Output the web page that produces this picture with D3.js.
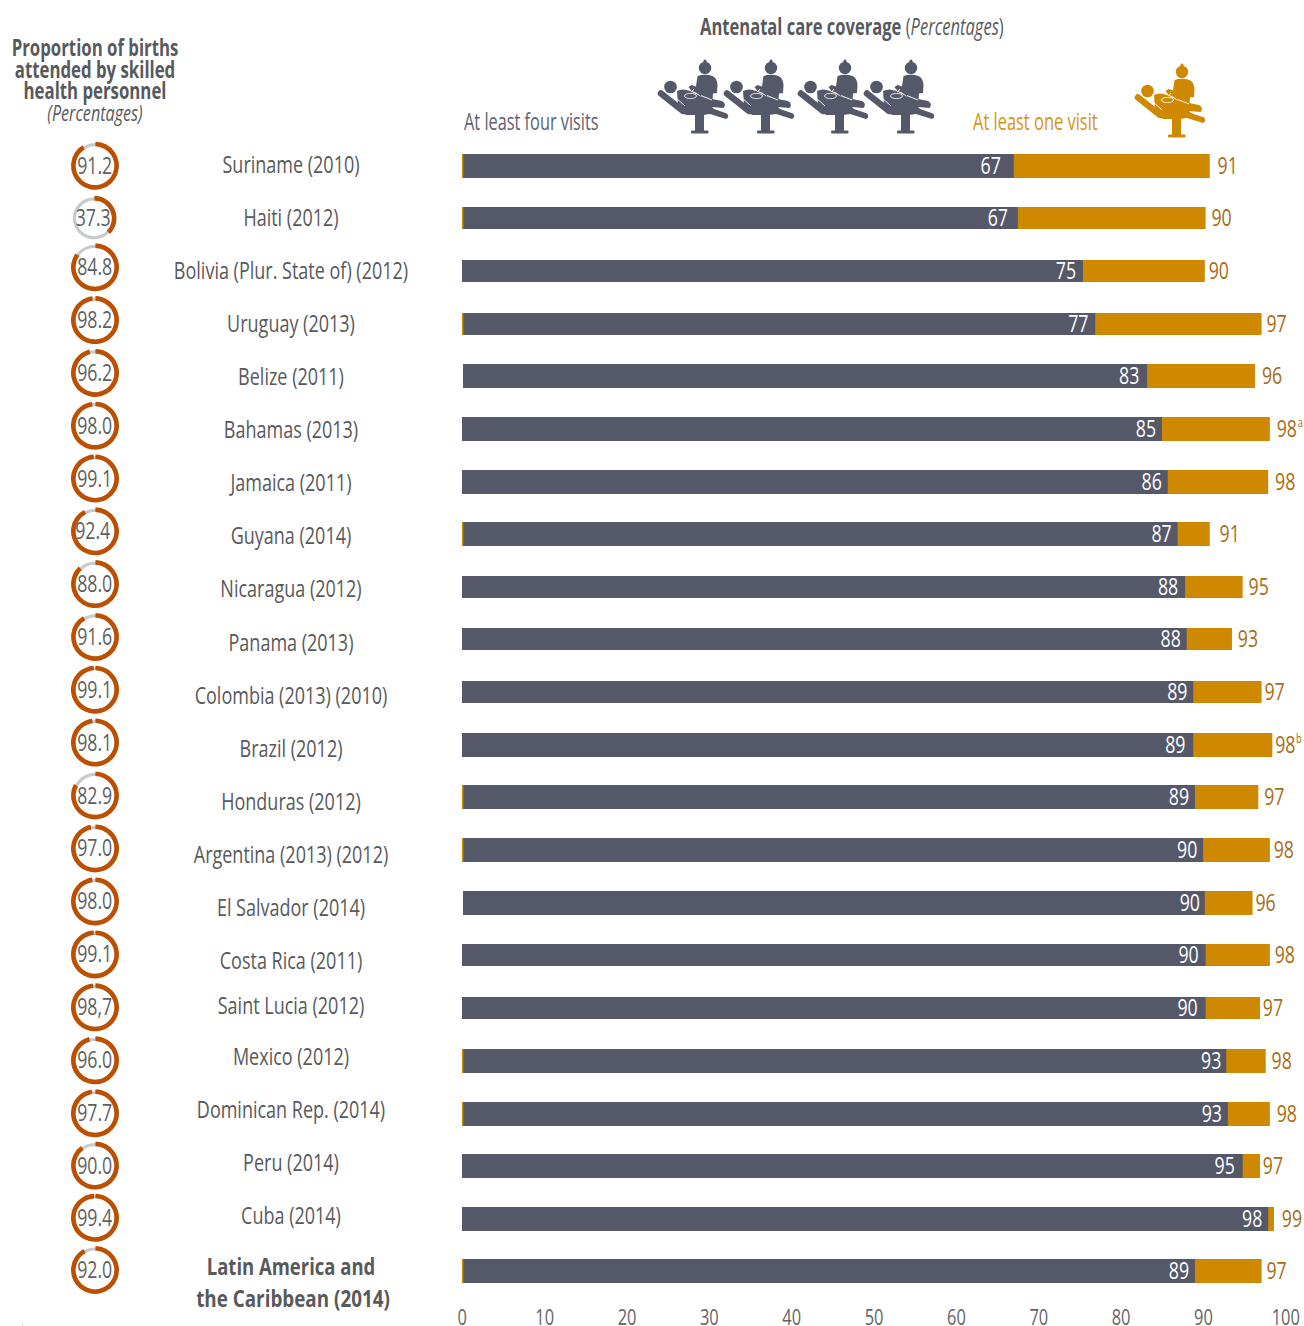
<!DOCTYPE html>
<html><head><meta charset="utf-8">
<script src="https://cdn.jsdelivr.net/npm/d3@7/dist/d3.min.js"></script>
<style>html,body{margin:0;padding:0;background:#fff}svg{display:block}text{font-family:"Open Sans",sans-serif}</style>
</head><body><svg id="c" width="1304" height="1326"></svg>
<script>
const countries = ["Suriname (2010)","Haiti (2012)","Bolivia (Plur. State of) (2012)","Uruguay (2013)","Belize (2011)","Bahamas (2013)","Jamaica (2011)","Guyana (2014)","Nicaragua (2012)","Panama (2013)","Colombia (2013) (2010)","Brazil (2012)","Honduras (2012)","Argentina (2013) (2012)","El Salvador (2014)","Costa Rica (2011)","Saint Lucia (2012)","Mexico (2012)","Dominican Rep. (2014)","Peru (2014)","Cuba (2014)"];
const regionLines = ["Latin America and","the Caribbean (2014)"];
const fourVisits = [67.0,67.5,75.4,76.9,83.2,85.0,85.7,86.9,87.8,88.0,88.8,88.8,89.0,90.0,90.2,90.3,90.3,92.8,93.0,94.8,97.9,89.0];
const oneVisit = [90.8,90.3,90.2,97.1,96.3,98.1,97.9,90.8,94.8,93.5,97.1,98.4,96.7,98.1,96.0,98.1,96.9,97.6,98.1,96.9,98.6,97.1];
const fourLabels = ["67","67","75","77","83","85","86","87","88","88","89","89","89","90","90","90","90","93","93","95","98","89"];
const oneLabels = ["91","90","90","97","96","98","98","91","95","93","97","98","97","98","96","98","97","98","98","97","99","97"];
const footnotes = ["","","","","","a","","","","","","b","","","","","","","","","",""];
const skilled = [91.2,37.3,84.8,98.2,96.2,98.0,99.1,92.4,88.0,91.6,99.1,98.1,82.9,97.0,98.0,99.1,98.7,96.0,97.7,90.0,99.4,92.0];
const skilledLabels = ["91.2","37.3","84.8","98.2","96.2","98.0","99.1","92.4","88.0","91.6","99.1","98.1","82.9","97.0","98.0","99.1","98,7","96.0","97.7","90.0","99.4","92.0"];
const axisTicks = [0,10,20,30,40,50,60,70,80,90,100];

const GREY="#555869", ORANGE="#cf8900", RING="#bd4f00", RINGBG="#c9cacd", INK="#58595b", OUTER="#a96c14";
const svg=d3.select("#c");
const n=fourVisits.length, rows=d3.range(n);
const x=d3.scaleLinear().domain([0,100]).range([462,1285.5]);
const barY=d3.scaleLinear().domain([0,16,17,21]).range([165.85,1007.8,1061,1271]);
const ringY=d3.scaleLinear().domain([0,1,2,11,18,21]).range([165.7,218.3,267.3,742.5,1113.3,1270]);
const nameY=d3.scaleLinear().domain([0,15,16,17,20]).range([164.5,960.5,1005.5,1056.5,1215.5]);
const narrow=new Set([1,2,3,8,9,10,15,16]);
const stub=new Set([0,1,3,7,12,13,17,18,21]), shifted=new Set([4,14]);
const innerNudge=[-6,-3,0,0,-1,1,1,1,0,1,1,-1,1,1,2,0,-1,2,1,-1,1,1];
const outerNudge=[3,1,-1,0,2,2,2,5,1,1,-2,-2,1,-1,-2,0,-2,1,2,-2,3,0];
const ringShift=new Map([[1,-1]]), ringTextShift=new Map([[1,-1.5],[7,-2]]);

function txt(g,px,py,s,o={}){
  const sx=o.sx||0.76;
  const t=g.append("text").attr("transform",`translate(${px},${py}) scale(${sx},1)`)
    .attr("dy",".35em").attr("text-anchor",o.anchor||"middle")
    .attr("font-size",o.size||22).attr("fill",o.fill||INK).text(s);
  if(o.bold)t.attr("font-weight",700);
  if(o.italic)t.attr("font-style","italic");
  return t;
}

// icon
const defs=svg.append("defs"), sym=defs.append("g").attr("id","medic");
const strokeLine=(d,w)=>sym.append("path").attr("d",d).attr("fill","none").attr("stroke","currentColor").attr("stroke-width",w).attr("stroke-linecap","round").attr("stroke-linejoin","round");
sym.append("circle").attr("cx",55).attr("cy",13).attr("r",6.2);
sym.append("circle").attr("cx",55).attr("cy",6.2).attr("r",1.6);
sym.append("path").attr("d","M47.5 21 Q55 18.5 62.5 21 Q67 23 67.5 30 L67 38 L63 38.5 L62.5 45 L52 42 L46 37.5 L41.5 36 L38.5 32 L41.5 30 L46 31.5 Z");
sym.append("circle").attr("cx",20.5).attr("cy",32).attr("r",6.3);
strokeLine("M11 38.5 L33 56 L56 56",6.5);
sym.append("path").attr("d","M27 36 Q33 33 40 36 L52 42 L72 46 Q77 49 73.5 53 L62 52 L64 54 L77 58.5 Q80 62 76 64 L60 59 L52 60 L36 60 L28 50 Z");
sym.append("rect").attr("x",45).attr("y",56).attr("width",9).attr("height",21);
sym.append("rect").attr("x",41).attr("y",75.5).attr("width",17.5).attr("height",3).attr("rx",1);
sym.append("ellipse").attr("cx",40.5).attr("cy",41).attr("rx",6).attr("ry",2.6).attr("fill","none").attr("stroke","#fff").attr("stroke-width",.8);
sym.append("path").attr("d","M24.5 41.5 L35 51 M44 34 L41.5 37 M51 40.5 L62 45").attr("fill","none").attr("stroke","#fff").attr("stroke-width",.9);

const iconOrigins=[650,716,790,856];
iconOrigins.forEach(px=>svg.append("use").attr("href","#medic").attr("x",px).attr("y",55).style("color",GREY).attr("fill",GREY));
svg.append("use").attr("href","#medic").attr("x",1127).attr("y",59).style("color",ORANGE).attr("fill",ORANGE);

// headers
const h=svg.append("g");
const t1=txt(h,700,26.5,"Antenatal care coverage",{anchor:"start",bold:true,size:23,sx:.72});
t1.append("tspan").attr("font-weight",400).attr("font-style","normal").text(" (");
t1.append("tspan").attr("font-weight",400).attr("font-style","italic").text("Percentages");
t1.append("tspan").attr("font-weight",400).text(")");
["Proportion of births","attended by skilled","health personnel"].forEach((s,i)=>txt(h,95,48+i*21.7,s,{bold:true,size:23,sx:.73}));
txt(h,95,113.5,"(Percentages)",{italic:true,size:22,sx:.735});
txt(h,464,122,"At least four visits",{anchor:"start",size:23,sx:.71,fill:"#5e6170"});
txt(h,973,122,"At least one visit",{anchor:"start",size:23,sx:.715,fill:"#d9930f"});

// bars
const cy=i=>Math.round(barY(i));
const halfH=i=>narrow.has(i)?11:12;
const base=i=>shifted.has(i)?x(0)+1:x(0);
const bars=svg.append("g");
bars.selectAll("rect.one").data(rows).join("rect").attr("class","one")
  .attr("x",base).attr("y",i=>cy(i)-halfH(i)).attr("height",i=>2*halfH(i))
  .attr("width",i=>x(oneVisit[i])-base(i)).attr("fill",ORANGE);
bars.selectAll("rect.four").data(rows).join("rect").attr("class","four")
  .attr("x",i=>stub.has(i)?x(0)+1.4:base(i)).attr("y",i=>cy(i)-halfH(i)).attr("height",i=>2*halfH(i))
  .attr("width",i=>x(fourVisits[i])-(stub.has(i)?x(0)+1.4:base(i))).attr("fill",GREY);
rows.forEach(i=>{
  txt(bars,x(fourVisits[i])-17+innerNudge[i],cy(i),fourLabels[i],{fill:"#fff",size:23,sx:.77});
  const ox=x(oneVisit[i])+15+outerNudge[i];
  txt(bars,ox,cy(i)-.5,oneLabels[i],{fill:OUTER,size:23,sx:.77});
  if(footnotes[i])txt(bars,ox+13.5,cy(i)-6,footnotes[i],{fill:OUTER,size:12,sx:.78});
});

// rings
const tau=2*Math.PI, pct=d3.scaleLinear().domain([0,100]).range([0,tau]);
const rg=svg.append("g");
rows.forEach(i=>{
  const small=i===1, R=small?22.5:24;
  const g=rg.append("g").attr("transform",`translate(${95+(ringShift.get(i)||0)},${ringY(i)})`);
  g.append("path").attr("fill",RINGBG).attr("d",d3.arc()({innerRadius:R-4.6,outerRadius:R-1.4,startAngle:0,endAngle:tau}));
  g.append("path").attr("fill",RING).attr("d",d3.arc()({innerRadius:R-4.6,outerRadius:R,startAngle:0.02,endAngle:pct(skilled[i])}));
  txt(rg,94.7+(ringTextShift.get(i)||0),ringY(i),skilledLabels[i],{size:23,sx:.77,fill:"#5e5f63"});
});

// country names
const nm=svg.append("g");
countries.forEach((c,i)=>txt(nm,291,nameY(i),c,{size:24,sx:.75}));
regionLines.forEach((s,i)=>txt(nm,291+(i?2:0),1266.5+i*32,s,{bold:true,size:24,sx:i?.785:.77}));

// axis
const ax=svg.append("g").attr("transform","translate(0,1306)")
  .call(d3.axisBottom(x).tickValues(axisTicks).tickSize(0).tickPadding(0));
ax.select(".domain").remove();
ax.selectAll("text").attr("font-family",'"Open Sans",sans-serif').attr("font-size",21).attr("fill","#636466")
  .attr("text-anchor","middle").attr("y",0).attr("dy","18.5").attr("transform","scale(.78,1)").attr("x",0);
ax.selectAll(".tick").attr("transform",d=>`translate(${x(d)+.3},0)`);
svg.append("line").attr("x1",22.5).attr("x2",22.5).attr("y1",1323).attr("y2",1326).attr("stroke","#ddd");
</script></body></html>
